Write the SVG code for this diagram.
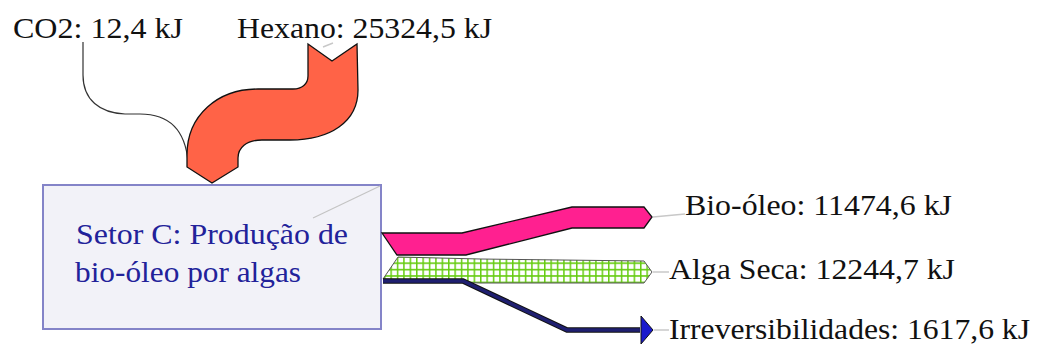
<svg xmlns="http://www.w3.org/2000/svg" width="1039" height="347" viewBox="0 0 1039 347">
  <defs>
    <style>
      text { font-family: 'Liberation Serif', 'Times New Roman', Times, 'DejaVu Serif', 'Noto Serif', Tinos, 'Nimbus Roman', FreeSerif, serif; font-size: 29px; }
      .lbl { fill: #111; }
      .box-txt { fill: #22229a; }
      .leader { stroke: #c8c8c8; stroke-width: 1.5; fill: none; }
    </style>
    <pattern id="grid" width="6.4" height="6.4" patternUnits="userSpaceOnUse">
      <rect width="6.4" height="6.4" fill="#ffffff"/>
      <path d="M0,0.75 H6.4 M0.75,0 V6.4" stroke="#66cc11" stroke-width="1.5"/>
    </pattern>
  </defs>

  <rect width="1039" height="347" fill="#ffffff"/>

  <!-- process box -->
  <g id="setor-c">
    <rect x="43" y="185" width="338" height="144" fill="#f2f2f8" stroke="#8484c8" stroke-width="2"/>
    <line x1="313" y1="218" x2="380" y2="186" stroke="#c4c4c4" stroke-width="1.2"/>
    <text class="box-txt" font-family="Liberation Serif, serif" x="76" y="244" textLength="272" lengthAdjust="spacingAndGlyphs">Setor C: Produção de</text>
    <text class="box-txt" font-family="Liberation Serif, serif" x="75" y="282" textLength="226" lengthAdjust="spacingAndGlyphs">bio-óleo por algas</text>
  </g>

  <!-- flows -->
  <g id="connectors">
    <!-- CO2 input (thin) -->
    <path d="M83,42 L83,75 C83,100 100,113 125,114 L140,114 C165,114 185,126 188,162" fill="none" stroke="#333" stroke-width="1.2"/>
    <!-- Hexano input -->
    <path d="M308,44 L332,61 L357,44 L358,90 C358,122 330,140 290,140 L262,140 C246,140 238,148 238,158 L238,167 L212,183 L187,167 L187,155 C187,115 218,89 258,89 L293,89 C302,89 308,84 308,76 Z" fill="#ff6347" stroke="#111" stroke-width="1.3"/>
    <line class="leader" x1="323" y1="47" x2="333" y2="43"/>
    <!-- Bio-oleo output -->
    <path d="M382,233 L462,233 L572,207 L644,207 L652,217 L644,228 L572,228 L466,255 L397,255 Z" fill="#ff2090" stroke="#111" stroke-width="1.3"/>
    <!-- Alga seca output -->
    <path d="M398,257 L480,259 L644,261 L652,272 L644,283 L480,283 L383,279 Z" fill="url(#grid)" stroke="#555" stroke-width="1"/>
    <!-- Irreversibilidades -->
    <path d="M383,281 L463,281 L567,330 L640,330" fill="none" stroke="#111" stroke-width="5.5"/>
    <path d="M383,281 L463,281 L567,330 L640,330" fill="none" stroke="#1f1f70" stroke-width="3.5"/>
    <path d="M641,316 L653,330 L641,344 Z" fill="#1a1acc" stroke="#111" stroke-width="1"/>
    <!-- label leaders -->
    <line class="leader" x1="653" y1="217" x2="685" y2="214"/>
    <line class="leader" x1="653" y1="272" x2="669" y2="272"/>
    <line class="leader" x1="654" y1="330" x2="669" y2="330"/>
  </g>

  <g id="labels">
    <text class="lbl" x="13" y="38" textLength="170" lengthAdjust="spacingAndGlyphs">CO2: 12,4 kJ</text>
    <text class="lbl" x="237" y="38" textLength="255" lengthAdjust="spacingAndGlyphs">Hexano: 25324,5 kJ</text>
    <text class="lbl" x="685" y="215" textLength="267" lengthAdjust="spacingAndGlyphs">Bio-óleo: 11474,6 kJ</text>
    <text class="lbl" x="669" y="279" textLength="286" lengthAdjust="spacingAndGlyphs">Alga Seca: 12244,7 kJ</text>
    <text class="lbl" x="669" y="339" textLength="361" lengthAdjust="spacingAndGlyphs">Irreversibilidades: 1617,6 kJ</text>
  </g>
</svg>
